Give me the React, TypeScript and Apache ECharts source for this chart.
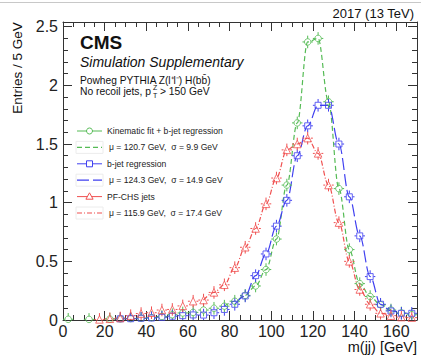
import React, { useEffect, useRef } from 'react';
import * as echarts from 'echarts';

// ---------------- data ----------------
const BIN_CENTERS = [
  2.5, 7.5, 12.5, 17.5, 22.5, 27.5, 32.5, 37.5, 42.5, 47.5, 52.5, 57.5,
  62.5, 67.5, 72.5, 77.5, 82.5, 87.5, 92.5, 97.5, 102.5, 107.5, 112.5, 117.5,
  122.5, 127.5, 132.5, 137.5, 142.5, 147.5, 152.5, 157.5, 162.5, 167.5,
];
const BIN_HALF_WIDTH = 2.5;

const KINFIT_VALUES = [
  0.006, null, 0.005, null, 0.008, 0.01, 0.012, 0.015, 0.02, 0.03, 0.045, 0.06,
  0.065, 0.085, 0.1, 0.118, 0.16, 0.21, 0.29, 0.43, 0.69, 1.15, 1.68, 2.37,
  2.4, 1.86, 1.12, 0.6, 0.31, 0.2, 0.13, 0.085, 0.06, 0.045,
];
const BREG_VALUES = [
  null, null, null, null, null, 0.01, 0.011, 0.015, 0.017, 0.023, 0.032, 0.037,
  0.043, 0.042, 0.062, 0.09, 0.134, 0.205, 0.378, 0.563, 0.8, 1.02, 1.4, 1.655,
  1.83, 1.83, 1.5, 1.05, 0.717, 0.37, 0.134, 0.077, 0.057, 0.057,
];
const PFCHS_VALUES = [
  null, null, null, 0.005, 0.01, 0.017, 0.037, 0.055, 0.062, 0.085, 0.09, 0.12,
  0.16, 0.17, 0.235, 0.3, 0.446, 0.62, 0.78, 0.99, 1.21, 1.45, 1.5, 1.55,
  1.42, 1.15, 0.83, 0.5, 0.26, 0.134, 0.057, 0.037, 0.025, 0.02,
];

const KINFIT_FIT_RANGE = [77.5, 157.5];
const BREG_FIT_RANGE = [82.5, 162.5];
const PFCHS_FIT_RANGE = [67.5, 157.5];

const X_TICK_LABELS = [0, 20, 40, 60, 80, 100, 120, 140, 160];
const Y_TICK_LABELS = [0, 0.5, 1, 1.5, 2, 2.5];

const LEGEND_TEXTS = [
  'Kinematic fit + b-jet regression',
  'μ = 120.7 GeV,  σ = 9.9 GeV',
  'b-jet regression',
  'μ = 124.3 GeV,  σ = 14.9 GeV',
  'PF-CHS jets',
  'μ = 115.9 GeV,  σ = 17.4 GeV',
];

// ---------------- style ----------------
const GREEN = '#55bb55';
const BLUE = '#4040f0';
const RED = '#f05050';
const AXIS = '#333';
const FONT = '"Liberation Sans", Arial, Helvetica, sans-serif';

const GREEN_DASH = [5, 3];
const BLUE_DASH = [12, 4];
const RED_DASH = [5, 2, 1, 2];

function points(values: (number | null)[]) {
  const out: [number, number][] = [];
  values.forEach((v, i) => {
    if (v != null) out.push([BIN_CENTERS[i], v]);
  });
  return out;
}
function fitPoints(values: (number | null)[], range: number[]) {
  return points(values).filter(([x]) => x >= range[0] && x <= range[1]);
}

function errorBarSeries(values: (number | null)[], color: string) {
  return {
    type: 'custom',
    coordinateSystem: 'cartesian2d',
    xAxisIndex: 0,
    yAxisIndex: 0,
    clip: true,
    z: 3,
    data: points(values),
    renderItem: (_params: any, api: any) => {
      const x = api.value(0);
      const y = api.value(1);
      const c = api.coord([x, y]);
      const l = api.coord([x - BIN_HALF_WIDTH, y]);
      const r = api.coord([x + BIN_HALF_WIDTH, y]);
      const m = 3.3;
      const stub = 3;
      const st = { stroke: color, lineWidth: 1 };
      return {
        type: 'group',
        children: [
          { type: 'line', shape: { x1: l[0], y1: c[1], x2: c[0] - m, y2: c[1] }, style: st },
          { type: 'line', shape: { x1: c[0] + m, y1: c[1], x2: r[0], y2: c[1] }, style: st },
          { type: 'line', shape: { x1: c[0], y1: c[1] - m - stub, x2: c[0], y2: c[1] - m }, style: st },
          { type: 'line', shape: { x1: c[0], y1: c[1] + m, x2: c[0], y2: c[1] + m + stub }, style: st },
        ],
      };
    },
  };
}

function markerSeries(values: (number | null)[], color: string, symbol: string, size: number) {
  return {
    type: 'scatter',
    xAxisIndex: 0,
    yAxisIndex: 0,
    symbol,
    symbolSize: size,
    z: 4,
    itemStyle: { color: 'rgba(0,0,0,0)', borderColor: color, borderWidth: 1 },
    data: points(values),
  };
}

function fitSeries(values: (number | null)[], range: number[], color: string, dash: number[]) {
  return {
    type: 'line',
    xAxisIndex: 0,
    yAxisIndex: 0,
    smooth: 0.35,
    smoothMonotone: 'x',
    showSymbol: false,
    symbol: 'none',
    z: 2,
    lineStyle: { color, width: 1.2, type: dash },
    data: fitPoints(values, range),
  };
}

function xAxis(position: string, interval: number, tickLen: number, showLine: boolean, showLabel: boolean) {
  return {
    type: 'value',
    position,
    min: 0,
    max: 170,
    interval,
    axisLine: { show: showLine, onZero: false, lineStyle: { color: AXIS, width: 1 } },
    axisTick: { show: true, inside: true, length: tickLen, lineStyle: { color: AXIS, width: 1 } },
    axisLabel: {
      show: showLabel,
      margin: 3,
      fontSize: 16,
      color: '#222',
      fontFamily: FONT,
      formatter: (v: number) => (X_TICK_LABELS.indexOf(v) >= 0 ? String(v) : ''),
    },
    splitLine: { show: false },
  };
}
function yAxis(position: string, interval: number, tickLen: number, showLine: boolean, showLabel: boolean) {
  return {
    type: 'value',
    position,
    min: 0,
    max: 2.54,
    interval,
    axisLine: { show: showLine, onZero: false, lineStyle: { color: AXIS, width: 1 } },
    axisTick: { show: true, inside: true, length: tickLen, lineStyle: { color: AXIS, width: 1 } },
    axisLabel: {
      show: showLabel,
      margin: 5,
      fontSize: 16,
      color: '#222',
      fontFamily: FONT,
      formatter: (v: number) => {
        const hit = Y_TICK_LABELS.find((t) => Math.abs(t - v) < 1e-6);
        return hit === undefined ? '' : String(hit);
      },
    },
    splitLine: { show: false },
  };
}

function legendGraphics() {
  const y0 = 131;
  const dy = 16.4;
  const x1 = 77;
  const x2 = 102;
  const xm = (x1 + x2) / 2;
  const rows = [
    { color: GREEN, dash: null as number[] | null, marker: 'circle' },
    { color: GREEN, dash: GREEN_DASH, marker: null as string | null },
    { color: BLUE, dash: null, marker: 'rect' },
    { color: BLUE, dash: BLUE_DASH, marker: null },
    { color: RED, dash: null, marker: 'triangle' },
    { color: RED, dash: RED_DASH, marker: null },
  ];
  const els: any[] = [];
  rows.forEach((row, i) => {
    const y = y0 + i * dy;
    if (row.dash) {
      els.push({
        type: 'rect',
        shape: { x: x1 - 1, y: y - 6, width: x2 - x1 + 2, height: 12 },
        style: { fill: 'none', stroke: '#ececec', lineWidth: 1 },
      });
    }
    els.push({
      type: 'line',
      shape: { x1, y1: y, x2, y2: y },
      style: { stroke: row.color, lineWidth: row.dash ? 1.2 : 1, lineDash: row.dash || undefined },
    });
    if (row.marker === 'circle') {
      els.push({ type: 'circle', shape: { cx: xm, cy: y, r: 3 }, style: { fill: '#fff', stroke: row.color, lineWidth: 1 } });
    } else if (row.marker === 'rect') {
      els.push({ type: 'rect', shape: { x: xm - 3, y: y - 3, width: 6, height: 6 }, style: { fill: '#fff', stroke: row.color, lineWidth: 1 } });
    } else if (row.marker === 'triangle') {
      els.push({
        type: 'polygon',
        shape: { points: [[xm, y - 3.8], [xm + 3.6, y + 2.6], [xm - 3.6, y + 2.6]] },
        style: { fill: '#fff', stroke: row.color, lineWidth: 1 },
      });
    }
    els.push({
      type: 'text',
      style: {
        text: LEGEND_TEXTS[i],
        x: row.dash ? 109 : 107,
        y,
        fill: '#222',
        font: `8.6px ${FONT}`,
        textAlign: 'left',
        textVerticalAlign: 'middle',
      },
    });
  });
  return els;
}

function textEl(text: string, x: number, y: number, font: string, align = 'left') {
  return {
    type: 'text',
    style: { text, x, y, fill: '#111', font, textAlign: align, textVerticalAlign: 'middle' },
  };
}

export default function App() {
  const ref = useRef<HTMLDivElement>(null);
  useEffect(() => {
    if (!ref.current) return;
    const chart = echarts.init(ref.current, null, { renderer: 'svg' });
    const option: any = {
      animation: false,
      backgroundColor: '#fff',
      grid: { left: 63, right: 4, top: 22, bottom: 37, containLabel: false },
      xAxis: [
        xAxis('bottom', 20, 9, true, true),
        xAxis('top', 20, 9, true, false),
        xAxis('bottom', 5, 5, false, false),
        xAxis('top', 5, 5, false, false),
      ],
      yAxis: [
        yAxis('left', 0.5, 9, true, true),
        yAxis('right', 0.5, 9, true, false),
        yAxis('left', 0.1, 5, false, false),
        yAxis('right', 0.1, 5, false, false),
      ],
      series: [
        fitSeries(KINFIT_VALUES, KINFIT_FIT_RANGE, GREEN, GREEN_DASH),
        fitSeries(BREG_VALUES, BREG_FIT_RANGE, BLUE, BLUE_DASH),
        fitSeries(PFCHS_VALUES, PFCHS_FIT_RANGE, RED, RED_DASH),
        errorBarSeries(KINFIT_VALUES, GREEN),
        errorBarSeries(BREG_VALUES, BLUE),
        errorBarSeries(PFCHS_VALUES, RED),
        markerSeries(KINFIT_VALUES, GREEN, 'circle', 6.5),
        markerSeries(BREG_VALUES, BLUE, 'rect', 6),
        markerSeries(PFCHS_VALUES, RED, 'triangle', 7.5),
      ],
      graphic: {
        elements: [
          { type: 'line', shape: { x1: 0, y1: 2.5, x2: 421, y2: 2.5 }, style: { stroke: '#c8c8c8', lineWidth: 1 } },
          textEl('2017 (13 TeV)', 414, 13, `13px ${FONT}`, 'right'),
          textEl('CMS', 80, 42, `bold 19px ${FONT}`),
          textEl('Simulation Supplementary', 80, 62, `italic 14px ${FONT}`),
          textEl('Powheg PYTHIA Z(l\u207Al\u207B) H(bb\u0304)', 80, 80, `10.2px ${FONT}`),
          textEl('No recoil jets, p', 80, 91, `10.3px ${FONT}`),
          textEl('Z', 153, 87.5, `7px ${FONT}`),
          textEl('T', 153, 95, `7px ${FONT}`),
          textEl('> 150 GeV', 160, 91, `10.3px ${FONT}`),
          {
            type: 'text',
            x: 17,
            y: 68,
            rotation: Math.PI / 2,
            style: {
              text: 'Entries / 5 GeV',
              x: 0,
              y: 0,
              fill: '#111',
              font: `13.5px ${FONT}`,
              textAlign: 'center',
              textVerticalAlign: 'middle',
            },
          },
          textEl('m(jj) [GeV]', 417, 347, `14.5px ${FONT}`, 'right'),
          ...legendGraphics(),
        ],
      },
    };
    chart.setOption(option);
    return () => chart.dispose();
  }, []);
  return (
    <div
      ref={ref}
      style={{ position: 'fixed', left: 0, top: 0, width: 421, height: 357, background: '#fff' }}
    />
  );
}
